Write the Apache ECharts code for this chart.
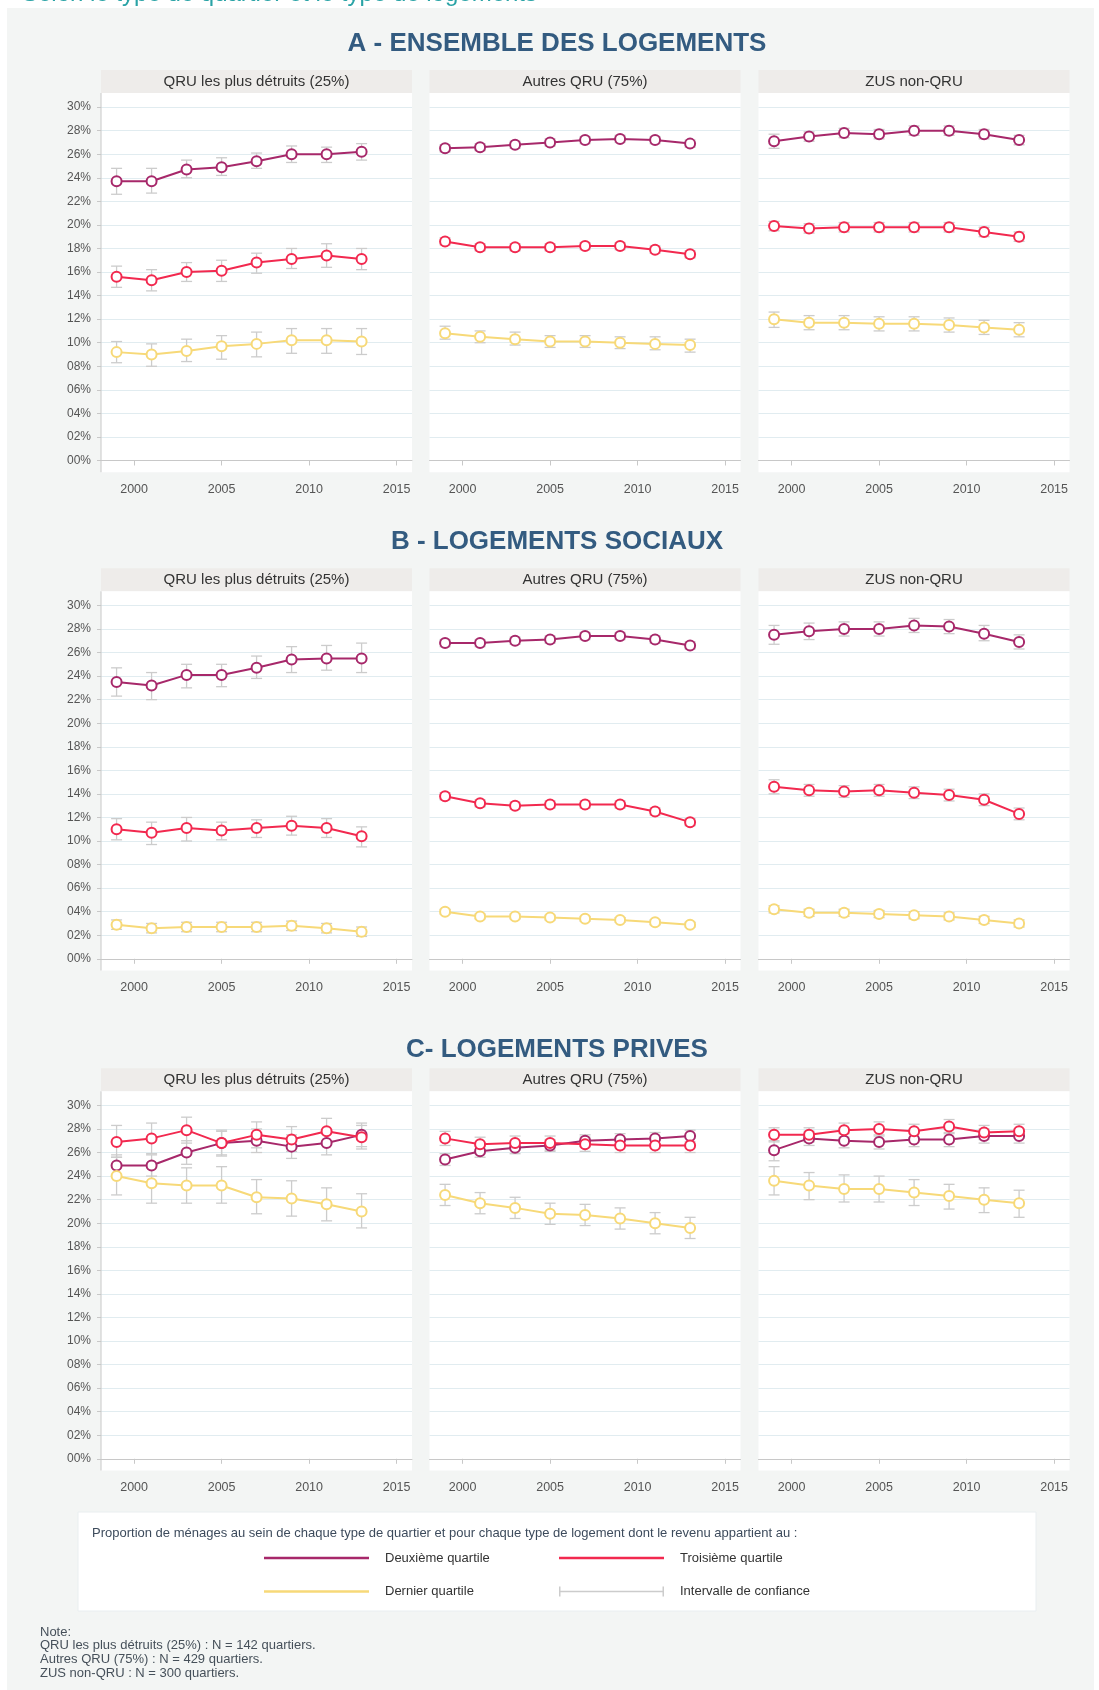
<!DOCTYPE html>
<html lang="fr">
<head>
<meta charset="UTF-8">
<title>Proportion de ménages par quartile de revenu</title>
<style>
    *{
        margin: 0;
        padding: 0;
    }
    html, body{
        background: #fff;
    }
    #main{
        width: 1099px;
        height: 1690px;
    }
</style>
</head>
<body>

<div id="main"></div>

<script src="https://cdn.jsdelivr.net/npm/echarts@6/dist/echarts.min.js"></script>
<script type="text/javascript">
    // années d'enquête et graduations
    var years = [1999, 2001, 2003, 2005, 2007, 2009, 2011, 2013];
    var xTicks = [2000, 2005, 2010, 2015];
    var yTicks = [0, 2, 4, 6, 8, 10, 12, 14, 16, 18, 20, 22, 24, 26, 28, 30];

    var sectionTitles = ['A - ENSEMBLE DES LOGEMENTS', 'B - LOGEMENTS SOCIAUX', 'C- LOGEMENTS PRIVES'];
    var panelTitles = ['QRU les plus détruits (25%)', 'Autres QRU (75%)', 'ZUS non-QRU'];
    var quartileNames = ['Deuxième quartile', 'Troisième quartile', 'Dernier quartile'];
    var ciName = 'Intervalle de confiance';

    // A - ensemble des logements
    var a1_q2 = [23.7, 23.7, 24.7, 24.9, 25.4, 26.0, 26.0, 26.2];
    var a1_q2_ci = [[22.6, 24.8], [22.7, 24.8], [24.0, 25.5], [24.2, 25.7], [24.8, 26.1], [25.3, 26.7], [25.3, 26.6], [25.5, 26.9]];
    var a1_q3 = [15.6, 15.3, 16.0, 16.1, 16.8, 17.1, 17.4, 17.1];
    var a1_q3_ci = [[14.7, 16.5], [14.4, 16.2], [15.2, 16.8], [15.2, 17.0], [15.9, 17.6], [16.3, 18.0], [16.4, 18.4], [16.2, 18.0]];
    var a1_q4 = [9.2, 9.0, 9.3, 9.7, 9.9, 10.2, 10.2, 10.1];
    var a1_q4_ci = [[8.3, 10.1], [8.0, 9.9], [8.4, 10.3], [8.6, 10.6], [8.8, 10.9], [9.1, 11.2], [9.1, 11.2], [9.0, 11.2]];

    var a2_q2 = [26.5, 26.6, 26.8, 27.0, 27.2, 27.3, 27.2, 26.9];
    var a2_q2_ci = [[26.2, 26.8], [26.3, 26.9], [26.5, 27.1], [26.7, 27.3], [26.9, 27.5], [27.0, 27.6], [26.9, 27.5], [26.6, 27.2]];
    var a2_q3 = [18.6, 18.1, 18.1, 18.1, 18.2, 18.2, 17.9, 17.5];
    var a2_q3_ci = [[18.3, 18.9], [17.8, 18.4], [17.8, 18.4], [17.8, 18.4], [17.9, 18.5], [17.9, 18.5], [17.6, 18.2], [17.2, 17.8]];
    var a2_q4 = [10.8, 10.5, 10.3, 10.1, 10.1, 10.0, 9.9, 9.8];
    var a2_q4_ci = [[10.3, 11.4], [10.0, 11.0], [9.8, 10.9], [9.6, 10.6], [9.6, 10.6], [9.5, 10.5], [9.4, 10.5], [9.2, 10.3]];

    var a3_q2 = [27.1, 27.5, 27.8, 27.7, 28.0, 28.0, 27.7, 27.2];
    var a3_q2_ci = [[26.5, 27.7], [27.1, 27.9], [27.4, 28.2], [27.3, 28.1], [27.6, 28.4], [27.6, 28.4], [27.3, 28.1], [26.8, 27.6]];
    var a3_q3 = [19.9, 19.7, 19.8, 19.8, 19.8, 19.8, 19.4, 19.0];
    var a3_q3_ci = [[19.5, 20.3], [19.3, 20.1], [19.4, 20.2], [19.4, 20.2], [19.4, 20.2], [19.4, 20.2], [19.0, 19.8], [18.6, 19.4]];
    var a3_q4 = [12.0, 11.7, 11.7, 11.6, 11.6, 11.5, 11.3, 11.1];
    var a3_q4_ci = [[11.3, 12.6], [11.1, 12.3], [11.1, 12.3], [11.0, 12.2], [11.0, 12.2], [10.9, 12.1], [10.7, 11.9], [10.5, 11.7]];

    // B - logements sociaux
    var b1_q2 = [23.5, 23.2, 24.1, 24.1, 24.7, 25.4, 25.5, 25.5];
    var b1_q2_ci = [[22.3, 24.7], [22.0, 24.3], [23.0, 25.0], [23.1, 25.0], [23.8, 25.7], [24.3, 26.5], [24.5, 26.6], [24.3, 26.8]];
    var b1_q3 = [11.0, 10.7, 11.1, 10.9, 11.1, 11.3, 11.1, 10.4];
    var b1_q3_ci = [[10.1, 11.9], [9.7, 11.6], [10.0, 12.0], [10.1, 11.6], [10.3, 11.8], [10.5, 12.1], [10.3, 11.9], [9.5, 11.2]];
    var b1_q4 = [2.9, 2.6, 2.7, 2.7, 2.7, 2.8, 2.6, 2.3];
    var b1_q4_ci = [[2.5, 3.3], [2.2, 3.0], [2.3, 3.1], [2.3, 3.1], [2.3, 3.1], [2.4, 3.2], [2.2, 3.0], [1.9, 2.7]];

    var b2_q2 = [26.8, 26.8, 27.0, 27.1, 27.4, 27.4, 27.1, 26.6];
    var b2_q2_ci = [[26.5, 27.1], [26.5, 27.1], [26.7, 27.3], [26.8, 27.4], [27.1, 27.7], [27.1, 27.7], [26.8, 27.4], [26.3, 26.9]];
    var b2_q3 = [13.8, 13.2, 13.0, 13.1, 13.1, 13.1, 12.5, 11.6];
    var b2_q3_ci = [[13.5, 14.1], [12.9, 13.5], [12.7, 13.3], [12.8, 13.4], [12.8, 13.4], [12.8, 13.4], [12.2, 12.8], [11.3, 11.9]];
    var b2_q4 = [4.0, 3.6, 3.6, 3.5, 3.4, 3.3, 3.1, 2.9];
    var b2_q4_ci = [[3.8, 4.2], [3.4, 3.8], [3.4, 3.8], [3.3, 3.7], [3.2, 3.6], [3.1, 3.5], [2.9, 3.3], [2.7, 3.1]];

    var b3_q2 = [27.5, 27.8, 28.0, 28.0, 28.3, 28.2, 27.6, 26.9];
    var b3_q2_ci = [[26.7, 28.3], [27.1, 28.5], [27.4, 28.6], [27.4, 28.6], [27.7, 28.9], [27.6, 28.8], [27.0, 28.3], [26.3, 27.5]];
    var b3_q3 = [14.6, 14.3, 14.2, 14.3, 14.1, 13.9, 13.5, 12.3];
    var b3_q3_ci = [[14.0, 15.2], [13.8, 14.8], [13.7, 14.7], [13.8, 14.8], [13.6, 14.6], [13.4, 14.4], [13.0, 14.0], [11.8, 12.8]];
    var b3_q4 = [4.2, 3.9, 3.9, 3.8, 3.7, 3.6, 3.3, 3.0];
    var b3_q4_ci = [[3.9, 4.5], [3.6, 4.2], [3.6, 4.2], [3.5, 4.1], [3.4, 4.0], [3.3, 3.9], [3.0, 3.6], [2.7, 3.3]];

    // C - logements privés
    var c1_q2 = [24.9, 24.9, 26.0, 26.8, 27.0, 26.5, 26.8, 27.5];
    var c1_q2_ci = [[24.0, 25.8], [24.0, 25.8], [25.0, 27.0], [25.8, 27.8], [26.0, 28.0], [25.5, 27.5], [25.8, 27.8], [26.5, 28.5]];
    var c1_q3 = [26.9, 27.2, 27.9, 26.8, 27.5, 27.1, 27.8, 27.3];
    var c1_q3_ci = [[25.6, 28.3], [25.9, 28.5], [26.8, 29.0], [25.7, 27.9], [26.4, 28.6], [26.1, 28.2], [26.6, 28.9], [26.3, 28.3]];
    var c1_q4 = [24.0, 23.4, 23.2, 23.2, 22.2, 22.1, 21.6, 21.0];
    var c1_q4_ci = [[22.4, 25.6], [21.7, 25.1], [21.7, 24.7], [21.7, 24.8], [20.8, 23.7], [20.6, 23.6], [20.2, 23.0], [19.6, 22.5]];

    var c2_q2 = [25.4, 26.1, 26.4, 26.6, 27.0, 27.1, 27.2, 27.4];
    var c2_q2_ci = [[24.9, 25.9], [25.6, 26.6], [25.9, 26.9], [26.1, 27.1], [26.5, 27.5], [26.6, 27.6], [26.7, 27.7], [26.9, 27.9]];
    var c2_q3 = [27.2, 26.7, 26.8, 26.8, 26.7, 26.6, 26.6, 26.6];
    var c2_q3_ci = [[26.6, 27.8], [26.1, 27.3], [26.2, 27.4], [26.2, 27.4], [26.1, 27.3], [26.0, 27.2], [26.0, 27.2], [26.0, 27.2]];
    var c2_q4 = [22.4, 21.7, 21.3, 20.8, 20.7, 20.4, 20.0, 19.6];
    var c2_q4_ci = [[21.5, 23.3], [20.8, 22.6], [20.4, 22.2], [19.9, 21.7], [19.8, 21.6], [19.5, 21.3], [19.1, 20.9], [18.7, 20.5]];

    var c3_q2 = [26.2, 27.2, 27.0, 26.9, 27.1, 27.1, 27.4, 27.4];
    var c3_q2_ci = [[25.3, 27.0], [26.6, 27.8], [26.4, 27.6], [26.3, 27.5], [26.5, 27.7], [26.5, 27.7], [26.8, 28.0], [26.8, 28.0]];
    var c3_q3 = [27.5, 27.5, 27.9, 28.0, 27.8, 28.2, 27.7, 27.8];
    var c3_q3_ci = [[26.9, 28.1], [26.9, 28.1], [27.3, 28.5], [27.4, 28.6], [27.2, 28.4], [27.6, 28.8], [27.1, 28.3], [27.2, 28.4]];
    var c3_q4 = [23.6, 23.2, 22.9, 22.9, 22.6, 22.3, 22.0, 21.7];
    var c3_q4_ci = [[22.4, 24.8], [22.0, 24.3], [21.8, 24.1], [21.8, 24.0], [21.5, 23.7], [21.2, 23.3], [20.9, 23.0], [20.5, 22.8]];

    var notes = [
        'Note:',
        'QRU les plus détruits (25%) : N = 142 quartiers.',
        'Autres QRU (75%) : N = 429 quartiers.',
        'ZUS non-QRU : N = 300 quartiers.'
    ];

    // chaque panneau : [valeurs, intervalle] pour Q2, Q3, Q4
    var panels = [
        [[[a1_q2, a1_q2_ci], [a1_q3, a1_q3_ci], [a1_q4, a1_q4_ci]],
         [[a2_q2, a2_q2_ci], [a2_q3, a2_q3_ci], [a2_q4, a2_q4_ci]],
         [[a3_q2, a3_q2_ci], [a3_q3, a3_q3_ci], [a3_q4, a3_q4_ci]]],
        [[[b1_q2, b1_q2_ci], [b1_q3, b1_q3_ci], [b1_q4, b1_q4_ci]],
         [[b2_q2, b2_q2_ci], [b2_q3, b2_q3_ci], [b2_q4, b2_q4_ci]],
         [[b3_q2, b3_q2_ci], [b3_q3, b3_q3_ci], [b3_q4, b3_q4_ci]]],
        [[[c1_q2, c1_q2_ci], [c1_q3, c1_q3_ci], [c1_q4, c1_q4_ci]],
         [[c2_q2, c2_q2_ci], [c2_q3, c2_q3_ci], [c2_q4, c2_q4_ci]],
         [[c3_q2, c3_q2_ci], [c3_q3, c3_q3_ci], [c3_q4, c3_q4_ci]]]
    ];

    var qColors = ['#a7286a', '#f2294f', '#f7d978'];
    var ciColor = '#cccccc';
    var font = 'Liberation Sans';

    // mise en page
    var colLeft = [101, 429.5, 758.5];
    var panelW = 311;
    var rowTop = [70, 568.3, 1068.3];
    var titleY = [44, 542, 1050];
    var headH = 23;
    var off30 = 37.1;
    var plotH = 353.4;
    var axisOff = 402.2;

    function renderCI(params, api) {
        var x = api.value(0);
        var lo = api.coord([x, api.value(1)]);
        var hi = api.coord([x, api.value(2)]);
        var w = 5.5;
        var st = {stroke: ciColor, lineWidth: 1.3, fill: null};
        return {
            type: 'group',
            children: [
                {type: 'line', shape: {x1: lo[0], y1: lo[1], x2: hi[0], y2: hi[1]}, style: st},
                {type: 'line', shape: {x1: lo[0] - w, y1: lo[1], x2: lo[0] + w, y2: lo[1]}, style: st},
                {type: 'line', shape: {x1: hi[0] - w, y1: hi[1], x2: hi[0] + w, y2: hi[1]}, style: st}
            ]
        };
    }

    var grids = [], xAxes = [], yAxes = [], series = [];
    var graphics = [
        {type: 'rect', shape: {x: 7, y: 8, width: 1087, height: 1690}, style: {fill: '#f3f5f4'}, z: -20},
        {type: 'text', x: 22, y: 6, z: 5, style: {text: 'Selon le type de quartier et le type de logements', fill: '#2aa3a6', font: '24px "' + font + '"', verticalAlign: 'bottom'}}
    ];

    sectionTitles.forEach(function (t, r) {
        graphics.push({type: 'text', x: 557, y: titleY[r], z: 5,
            style: {text: t, fill: '#335b80', font: 'bold 26px "' + font + '"', align: 'center', verticalAlign: 'middle'}});
    });

    panels.forEach(function (row, r) {
        row.forEach(function (p, c) {
            var idx = r * 3 + c;
            var left = colLeft[c];
            var top = rowTop[r];

            graphics.push({type: 'rect', shape: {x: left, y: top, width: panelW, height: headH}, style: {fill: '#eeecea'}, z: -10});
            graphics.push({type: 'text', x: left + panelW / 2, y: top + headH / 2 + 0.5, z: 5,
                style: {text: panelTitles[c], fill: '#333', font: '15px "' + font + '"', align: 'center', verticalAlign: 'middle'}});
            graphics.push({type: 'rect', shape: {x: left, y: top + headH, width: panelW, height: axisOff - headH}, style: {fill: '#fff'}, z: -10});
            if (c === 0) {
                graphics.push({type: 'line', shape: {x1: left, y1: top + headH, x2: left, y2: top + axisOff}, style: {stroke: '#c8c8c8', lineWidth: 1}, z: 5});
            }

            grids.push({left: left, top: top + off30, width: panelW, height: plotH, outerBoundsMode: 'none'});
            xAxes.push({
                gridIndex: idx, type: 'value', min: 1998.11, max: 2015.88,
                offset: axisOff - off30 - plotH,
                axisLine: {lineStyle: {color: '#c8c8c8', width: 1}},
                axisTick: {customValues: xTicks, length: 5, lineStyle: {color: '#c8c8c8'}},
                axisLabel: {
                    customValues: xTicks, color: '#555', fontSize: 12.5, margin: 11, fontFamily: font,
                    formatter: function (v) { return String(v); }
                },
                splitLine: {show: false}
            });
            yAxes.push({
                gridIndex: idx, type: 'value', min: 0, max: 30, interval: 2,
                axisLine: {show: false},
                axisTick: {show: c === 0, length: 4, lineStyle: {color: '#c8c8c8'}},
                axisLabel: {
                    show: c === 0, color: '#555', fontSize: 12, margin: 10, fontFamily: font,
                    formatter: function (v) { return (v < 10 ? '0' : '') + v + '%'; }
                },
                splitLine: {lineStyle: {color: '#e1ecf0', width: 1.2}}
            });

            p.forEach(function (q) {
                series.push({
                    type: 'custom', name: ciName, xAxisIndex: idx, yAxisIndex: idx,
                    renderItem: renderCI, silent: true, z: 1,
                    itemStyle: {color: ciColor},
                    encode: {x: 0, y: [1, 2]},
                    data: years.map(function (y, i) { return [y, q[1][i][0], q[1][i][1]]; })
                });
            });
            // ordre de tracé : dernier, deuxième, troisième quartile
            [2, 0, 1].forEach(function (k) {
                series.push({
                    type: 'line', name: quartileNames[k], xAxisIndex: idx, yAxisIndex: idx,
                    color: qColors[k], symbol: 'emptyCircle', symbolSize: 10,
                    lineStyle: {width: 2}, z: 3 + k,
                    data: years.map(function (y, i) { return [y, p[k][0][i]]; })
                });
            });
        });
    });

    // cadre de légende et note
    graphics.push({type: 'rect', shape: {x: 78, y: 1512, width: 958, height: 99}, style: {fill: '#fff', stroke: '#e9eef0', lineWidth: 1}, z: -10});
    graphics.push({type: 'text', x: 92, y: 1533, z: 5,
        style: {text: 'Proportion de ménages au sein de chaque type de quartier et pour chaque type de logement dont le revenu appartient au :',
            fill: '#3d4b5c', font: '13px "' + font + '"', verticalAlign: 'middle'}});
    notes.forEach(function (t, i) {
        graphics.push({type: 'text', x: 40, y: 1632 + i * 13.9, z: 5,
            style: {text: t, fill: '#46505a', font: '13px "' + font + '"', verticalAlign: 'middle'}});
    });

    var legendText = {color: '#333', fontSize: 13, fontFamily: font, padding: [0, 0, 0, 11]};
    var legends = [
        {data: [quartileNames[0]], left: 264, top: 1551.5, icon: 'rect', itemWidth: 105, itemHeight: 2.5},
        {data: [quartileNames[1]], left: 559, top: 1551.5, icon: 'rect', itemWidth: 105, itemHeight: 2.5},
        {data: [quartileNames[2]], left: 264, top: 1585, icon: 'rect', itemWidth: 105, itemHeight: 2.5},
        {data: [ciName], left: 559, top: 1585, itemWidth: 105, itemHeight: 10,
            icon: 'path://M0,0h1.5v10h-1.5z M0,4.3h105v1.4h-105z M103.5,0h1.5v10h-1.5z'}
    ];
    legends.forEach(function (l) {
        l.padding = 0;
        l.textStyle = legendText;
    });

    var myChart = echarts.init(document.getElementById('main'));
    myChart.setOption({
        animation: false,
        backgroundColor: '#fff',
        textStyle: {fontFamily: font},
        graphic: {elements: graphics},
        legend: legends,
        grid: grids,
        xAxis: xAxes,
        yAxis: yAxes,
        series: series
    });
</script>
</body>
</html>
